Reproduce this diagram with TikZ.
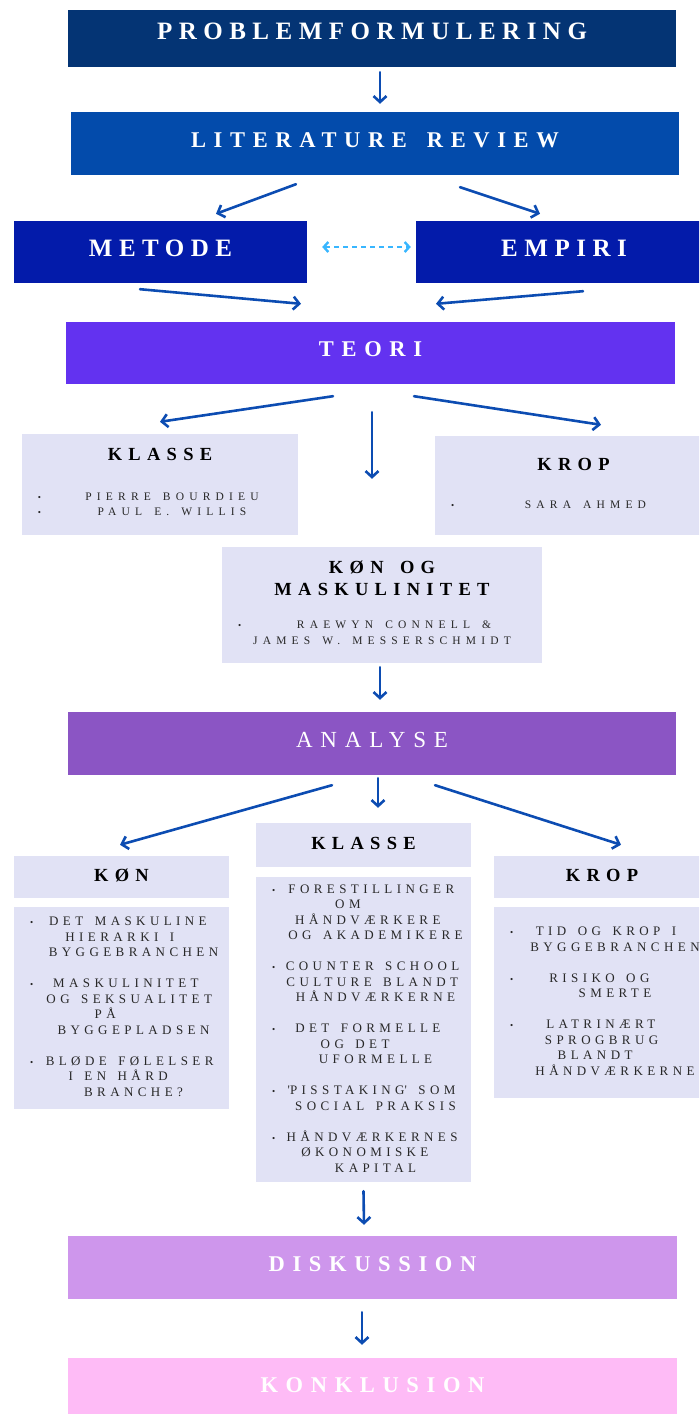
\documentclass[tikz,border=0pt]{standalone}
\usepackage{fontspec}
\usepackage{array}
\usepackage{tikz}
\usetikzlibrary{arrows.meta}
\setmainfont{Liberation Serif}
\newfontfamily\headfont[LetterSpace=34, WordSpace=1.5]{Liberation Serif}
\newfontfamily\bigheadfont[LetterSpace=26, WordSpace=1.5]{Liberation Serif}
\newfontfamily\listfont[LetterSpace=34, WordSpace=1.5]{Liberation Serif}
\newfontfamily\namefont[LetterSpace=45, WordSpace=1.5]{Liberation Serif}
\newcolumntype{C}[1]{>{\centering\arraybackslash}p{#1}}
\newcommand{\ttlfont}{\headfont\bfseries\fontsize{18.5}{22}\selectfont}
\newcommand{\blt}{{\fontsize{9}{9}\selectfont\textbullet}}
\newcommand{\itemgap}{\\\noalign{\vskip 15.5pt}}
\definecolor{probblue}{RGB}{4,52,116}
\definecolor{litblue}{RGB}{3,75,171}
\definecolor{metblue}{RGB}{3,27,170}
\definecolor{teoriviolet}{RGB}{99,50,240}
\definecolor{analysepurple}{RGB}{139,85,196}
\definecolor{diskpurple}{RGB}{206,150,236}
\definecolor{konkpink}{RGB}{254,187,246}
\definecolor{lavender}{RGB}{225,226,245}
\definecolor{listgray}{RGB}{40,40,40}
\definecolor{arrowblue}{RGB}{12,76,178}
\definecolor{lightblue}{RGB}{56,182,255}

\begin{document}
\begin{tikzpicture}[x=1pt, y=-1pt,
    head/.style={fill=#1, text=white, inner sep=0pt, text depth=7pt,
        font=\headfont\bfseries\fontsize{22.5}{27}\selectfont},
    bighead/.style={head=#1, font=\bigheadfont\bfseries\fontsize{25}{29}\selectfont},
    lightbox/.style={fill=lavender, inner sep=0pt, text=listgray,
        font=\listfont\fontsize{13}{15.5}\selectfont},
    namebox/.style={lightbox, font=\namefont\fontsize{11.5}{15.5}\selectfont},
    ttlbox/.style={lightbox, text=black, text depth=4pt, font=\ttlfont},
    arr/.style={draw=arrowblue, line width=2.6pt, line cap=round,
        -{Straight Barb[length=6pt,width=13pt]}},
    dasharr/.style={draw=lightblue, line width=2.4pt, dash pattern=on 5pt off 4pt,
        {Straight Barb[length=4.5pt,width=10pt]}-{Straight Barb[length=4.5pt,width=10pt]}}]

    \clip (0,0) rectangle (699,1414);

    % fases
    \node[bighead=probblue, minimum width=608pt, minimum height=57pt, text depth=15pt] (prob) at (372,38.5) {PROBLEMFORMULERING};
    \node[head=litblue, minimum width=608pt, minimum height=63pt] (lit) at (375,143.5) {LITERATURE REVIEW};
    \node[bighead=metblue, minimum width=293pt, minimum height=62pt] (metode) at (160.5,252) {METODE};
    \node[bighead=metblue, minimum width=296pt, minimum height=62pt] (empiri) at (564,252) {EMPIRI};
    \node[head=teoriviolet, minimum width=609pt, minimum height=62pt] (teori) at (370.5,353) {TEORI};
    \node[head=analysepurple, minimum width=608pt, minimum height=63pt,
        font=\headfont\fontsize{23}{27}\selectfont] (analyse) at (372,743.5) {ANALYSE};
    \node[head=diskpurple, minimum width=609pt, minimum height=63pt] (disk) at (372.5,1267.5) {DISKUSSION};
    \node[head=konkpink, minimum width=609pt, minimum height=61pt] (konk) at (372.5,1388.5) {KONKLUSION};

    % teori
    \node[namebox, minimum width=276pt, minimum height=101pt] (klasseT) at (160,484.5) {%
        \begin{tabular}{@{\hspace{16pt}}p{8pt}@{}C{252pt}@{}}
            \multicolumn{2}{@{}c@{}}{\color{black}\ttlfont KLASSE}\\[24pt]
            \blt & PIERRE BOURDIEU\\
            \blt & PAUL E. WILLIS
        \end{tabular}};
    \node[namebox, minimum width=277pt, minimum height=99pt] (kropT) at (573.5,485.5) {%
        \begin{tabular}{@{\hspace{16pt}}p{8pt}@{}C{253pt}@{}}
            \multicolumn{2}{@{}c@{}}{\color{black}\ttlfont KROP}\\[23pt]
            \blt & SARA AHMED
        \end{tabular}};
    \node[namebox, minimum width=320pt, minimum height=116pt] (ko) at (382,605) {%
        \begin{tabular}{@{\hspace{16pt}}p{8pt}@{}C{296pt}@{}}
            \multicolumn{2}{@{}c@{}}{\color{black}\ttlfont KØN OG}\\[5pt]
            \multicolumn{2}{@{}c@{}}{\color{black}\ttlfont MASKULINITET}\\[18pt]
            \blt & RAEWYN CONNELL \&\\
            \multicolumn{2}{@{}c@{}}{JAMES W. MESSERSCHMIDT}
        \end{tabular}};

    % analyse
    \node[ttlbox, minimum width=215pt, minimum height=42pt] (konH) at (121.5,877) {KØN};
    \node[ttlbox, minimum width=215pt, minimum height=44pt] (klasseH) at (363.5,845) {KLASSE};
    \node[ttlbox, minimum width=216pt, minimum height=42pt] (kropH) at (602,877) {KROP};

    \node[lightbox, minimum width=215pt, minimum height=202pt] (konL) at (121.5,1008) {%
        \begin{tabular}{@{\hspace{16pt}}p{8pt}@{}C{191pt}@{}}
            \blt & DET MASKULINE\newline HIERARKI I\newline BYGGEBRANCHEN\itemgap
            \blt & MASKULINITET\newline OG SEKSUALITET\newline PÅ\newline BYGGEPLADSEN\itemgap
            \blt & BLØDE FØLELSER\newline I EN HÅRD\newline BRANCHE?
        \end{tabular}};
    \node[lightbox, minimum width=215pt, minimum height=305pt] (klasseL) at (363.5,1029.5) {%
        \begin{tabular}{@{\hspace{16pt}}p{8pt}@{}C{191pt}@{}}
            \blt & FORESTILLINGER\newline OM\newline HÅNDVÆRKERE\newline OG AKADEMIKERE\itemgap
            \blt & COUNTER SCHOOL\newline CULTURE BLANDT\newline HÅNDVÆRKERNE\itemgap
            \blt & DET FORMELLE\newline OG DET\newline UFORMELLE\itemgap
            \blt & \textquotesingle PISSTAKING\textquotesingle{} SOM\newline SOCIAL PRAKSIS\itemgap
            \blt & HÅNDVÆRKERNES\newline ØKONOMISKE\newline KAPITAL
        \end{tabular}};
    \node[lightbox, minimum width=218pt, minimum height=191pt] (kropL) at (603,1002.5) {%
        \begin{tabular}{@{\hspace{16pt}}p{8pt}@{}C{194pt}@{}}
            \blt & TID OG KROP I\newline BYGGEBRANCHEN\itemgap
            \blt & RISIKO OG\newline SMERTE\itemgap
            \blt & LATRINÆRT\newline SPROGBRUG\newline BLANDT\newline HÅNDVÆRKERNE
        \end{tabular}};

    % pile
    \draw[arr] ([xshift=8pt,yshift=-5pt]prob.south) to ([xshift=5pt,yshift=8pt]lit.north);
    \draw[arr] ([xshift=-79pt,yshift=-9pt]lit.south) to ([xshift=55.5pt,yshift=7pt]metode.north);
    \draw[arr] ([xshift=85pt,yshift=-12pt]lit.south) to ([xshift=-24pt,yshift=7pt]empiri.north);
    \draw[dasharr] ([xshift=15pt,yshift=5pt]metode.east) to ([xshift=-5pt,yshift=5pt]empiri.west);
    \draw[arr] ([xshift=-20.5pt,yshift=-6pt]metode.south) to ([xshift=-69.5pt,yshift=18pt]teori.north);
    \draw[arr] ([xshift=19pt,yshift=-8pt]empiri.south) to ([xshift=65.5pt,yshift=18pt]teori.north);

    \draw[arr] ([xshift=-37.5pt,yshift=-12pt]teori.south) to ([yshift=12pt]klasseT.north);
    \draw[arr] ([xshift=1.5pt,yshift=-28pt]teori.south) to ([xshift=-10pt,yshift=68pt]ko.north);
    \draw[arr] ([xshift=43.5pt,yshift=-12pt]teori.south) to ([xshift=27.5pt,yshift=11pt]kropT.north);
    \draw[arr] ([xshift=-2pt,yshift=-4pt]ko.south) to ([xshift=8pt,yshift=12pt]analyse.north);

    \draw[arr] ([xshift=-40pt,yshift=-10pt]analyse.south) to ([xshift=-1.5pt,yshift=11pt]konH.north);
    \draw[arr] ([xshift=6pt,yshift=-3pt]analyse.south) to ([xshift=14.5pt,yshift=15pt]klasseH.north);
    \draw[arr] ([xshift=63pt,yshift=-10pt]analyse.south) to ([xshift=19pt,yshift=11pt]kropH.north);
    \draw[arr] ([yshift=-9pt]klasseL.south) to ([xshift=-8.5pt,yshift=11pt]disk.north);
    \draw[arr] ([xshift=-10.5pt,yshift=-13pt]disk.south) to ([xshift=-10.5pt,yshift=13pt]konk.north);
\end{tikzpicture}
\end{document}
